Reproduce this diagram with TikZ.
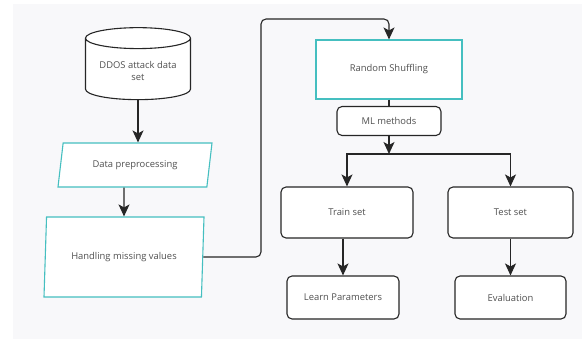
\documentclass[tikz,border=0pt]{standalone}
\usepackage{fontspec}
\setmainfont{Open Sans}
\usepackage{tikz}
\usetikzlibrary{shapes,shapes.geometric,arrows.meta,calc,positioning}
\definecolor{tealline}{HTML}{45BFC0}
\definecolor{txtgray}{HTML}{505050}
\definecolor{bggray}{HTML}{F8F8FA}
\tikzset{blk/.style={draw=black!85, line width=1.1pt, fill=white, rounded corners=5pt, font=\fontsize{9.4}{12}\selectfont, text=txtgray}}
\tikzset{io/.style={trapezium, trapezium stretches body, draw=tealline, line width=1.1pt, fill=white, font=\fontsize{9.4}{12}\selectfont, text=txtgray}}
\tikzstyle{db}=[cylinder, shape border rotate=90, aspect=0.25, draw=black!85, line width=1.1pt, fill=white, align=center, font=\fontsize{9.4}{12.5}\selectfont, text=txtgray]
\tikzstyle{ln}=[draw=black!85, line width=1.1pt]
\tikzset{arr/.style={ln, -{Stealth[length=12pt 0, width=11pt 0, inset=3pt 0]}}}

\begin{document}
\begin{tikzpicture}[x=1pt, y=1pt, yscale=-1]
\useasboundingbox (0,0) rectangle (584,339);
\fill[bggray] (13,4) rectangle (582,339);
\node[db, minimum width=105pt, minimum height=72pt] (data) at (138,71) {DDOS attack data\\set};
\node[io, trapezium left angle=72, trapezium right angle=108, minimum width=154pt, minimum height=44pt] (prep) at (135,165) {Data preprocessing};
\node[io, trapezium left angle=81, trapezium right angle=99, minimum width=160pt, minimum height=80pt] (hmv) at (124,257) {Handling missing values};
\node[blk, draw=tealline, rounded corners=0pt, minimum width=146pt, minimum height=59pt] (shuf) at (389,69.5) {Random Shuffling};
\node[blk, minimum width=104pt, minimum height=29pt] (ml) at (389,121) {ML methods};
\node[blk, minimum width=132pt, minimum height=51pt] (train) at (347,212.5) {Train set};
\node[blk, minimum width=125pt, minimum height=51pt] (test) at (510.5,212.5) {Test set};
\node[blk, minimum width=112pt, minimum height=43pt] (learn) at (343,297.5) {Learn Parameters};
\node[blk, minimum width=111pt, minimum height=43pt] (eval) at (510.5,297.5) {Evaluation};
\coordinate (top) at (261,19);
\coordinate (split) at (389,154);

\draw[arr] (data.bottom) -- (prep.north -| data.bottom);
\draw[arr] (prep.south -| hmv) -- (hmv.north);
\draw[arr, rounded corners=5pt] (hmv.east) -| (top) -| (shuf.north);
\draw[ln] (shuf.south) -- (ml.north);
\draw[arr] (ml.south) -- (split);
\draw[arr] (split) -| (train.north);
\draw[arr] (split) -| (test.north);
\draw[arr] (train.south -| learn) -- (learn.north);
\draw[arr] (test.south) -- (eval.north);
\end{tikzpicture}
\end{document}
